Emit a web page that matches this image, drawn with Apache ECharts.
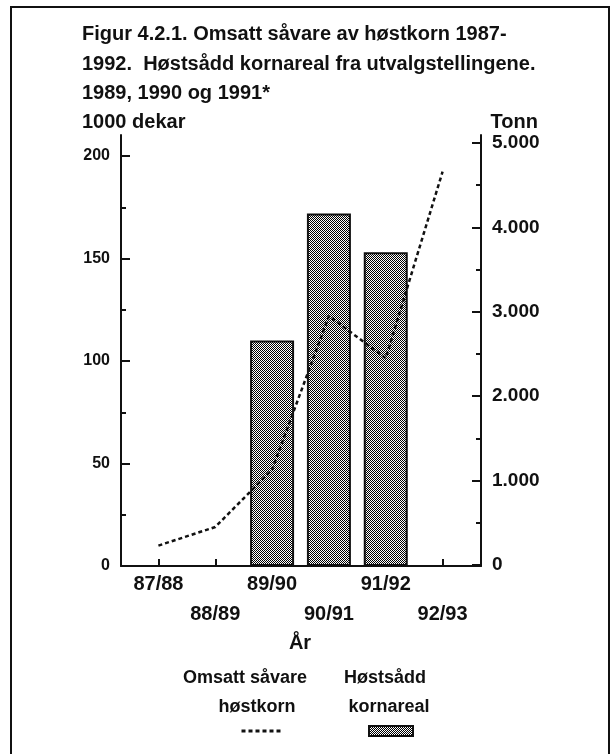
<!DOCTYPE html>
<html>
<head>
<meta charset="utf-8">
<script src="https://cdn.jsdelivr.net/npm/echarts@6/dist/echarts.min.js"></script>
<style>
html,body{margin:0;padding:0;background:#fff;}
#chart{width:613px;height:754px;}
</style>
</head>
<body>
<div id="chart"></div>
<script>
// ---- data ----
const categories = ['87/88', '88/89', '89/90', '90/91', '91/92', '92/93'];
const arealValues = [null, null, 110, 172, 153, null];          // 1000 dekar (bars)
const tonnValues = [230, 450, 1130, 2950, 2450, 4660];           // tonn (dashed line)
const titleLines = ['Figur 4.2.1. Omsatt såvare av høstkorn 1987-',
                    '1992.  Høstsådd kornareal fra utvalgstellingene.',
                    '1989, 1990 og 1991*'];
const leftAxisName = '1000 dekar';
const rightAxisName = 'Tonn';
const xAxisName = 'År';
const lineSeriesName = 'Omsatt såvare høstkorn';
const barSeriesName = 'Høstsådd kornareal';

const FONT = "'Liberation Sans', Arial, Helvetica, sans-serif";
const INK = '#111';

// dithered bar fill
const pc = document.createElement('canvas');
pc.width = 2; pc.height = 2;
const pctx = pc.getContext('2d');
pctx.fillStyle = '#fff'; pctx.fillRect(0, 0, 2, 2);
pctx.fillStyle = '#000'; pctx.fillRect(0, 0, 1, 1); pctx.fillRect(1, 1, 1, 1);
const barPattern = { image: pc, repeat: 'repeat' };

function thousands(v) { return String(v).replace(/\B(?=(\d{3})+(?!\d))/g, '.'); }

function txt(text, x, y, size, align) {
  return {
    type: 'text', x: x, y: y, silent: true,
    style: {
      text: text, fill: INK, font: 'bold ' + size + 'px ' + FONT,
      fontSize: size, fontWeight: 'bold', fontFamily: FONT,
      align: align || 'left', verticalAlign: 'middle',
      textAlign: align || 'left', textVerticalAlign: 'middle'
    }
  };
}

const chart = echarts.init(document.getElementById('chart'), null, { renderer: 'canvas' });

const graphics = [
  { type: 'rect', shape: { x: 11, y: 7, width: 598, height: 770 }, silent: true,
    style: { fill: 'none', stroke: INK, lineWidth: 2 } },
  txt(titleLines[0], 82, 34, 20),
  txt(titleLines[1], 82, 64, 20),
  txt(titleLines[2], 82, 93, 20),
  txt(leftAxisName, 82, 122, 20),
  txt(rightAxisName, 538, 122, 20, 'right'),
  txt(xAxisName, 300, 643, 20, 'center'),
  txt('Omsatt såvare', 245, 678, 18, 'center'),
  txt('høstkorn', 257, 707, 18, 'center'),
  txt('Høstsådd', 385, 678, 18, 'center'),
  txt('kornareal', 389, 707, 18, 'center')
];

const option = {
  backgroundColor: '#fff',
  animation: false,
  textStyle: { fontFamily: FONT, color: INK },
  graphic: graphics,
  legend: [
    { data: [lineSeriesName], left: 240, top: 727, itemWidth: 42, itemHeight: 8,
      itemStyle: { opacity: 0 }, lineStyle: { width: 3, type: [4, 3], color: INK },
      formatter: function () { return ''; }, selectedMode: false, padding: 0 },
    { data: [barSeriesName], left: 368, top: 725, itemWidth: 44, itemHeight: 10, icon: 'rect',
      formatter: function () { return ''; }, selectedMode: false, padding: 0 }
  ],
  grid: [
    { left: 121, right: 132, top: 135, bottom: 188, outerBoundsMode: 'none' },
    { left: 130, right: 142, top: 156, bottom: 188, outerBoundsMode: 'none' },
    { left: 130, right: 142, top: 143, bottom: 189, outerBoundsMode: 'none' }
  ],
  xAxis: [
    { gridIndex: 0, type: 'value', min: 0, max: 1, axisLine: { show: true, onZero: false, lineStyle: { color: INK, width: 2 } },
      axisTick: { show: false }, axisLabel: { show: false }, splitLine: { show: false } },
    { gridIndex: 1, type: 'category', data: categories, boundaryGap: true,
      axisLine: { show: false },
      axisTick: { show: true, inside: true, alignWithLabel: true, length: 7, lineStyle: { color: INK, width: 2 } },
      axisLabel: { show: true, interval: 0, margin: 3, color: INK, fontSize: 20, fontWeight: 'bold', fontFamily: FONT, lineHeight: 30,
        formatter: function (v, i) { return i % 2 === 1 ? '\n' + v : v; } },
      splitLine: { show: false } },
    { gridIndex: 2, type: 'category', data: categories, boundaryGap: true, show: false }
  ],
  yAxis: [
    { gridIndex: 0, type: 'value', position: 'left', min: 0, max: 1,
      axisLine: { show: true, onZero: false, lineStyle: { color: INK, width: 2 } },
      axisTick: { show: false }, axisLabel: { show: false }, splitLine: { show: false } },
    { gridIndex: 0, type: 'value', position: 'right', min: 0, max: 1,
      axisLine: { show: true, onZero: false, lineStyle: { color: INK, width: 2 } },
      axisTick: { show: false }, axisLabel: { show: false }, splitLine: { show: false } },
    { gridIndex: 1, type: 'value', position: 'left', offset: 9, min: 0, max: 200, interval: 50,
      axisLine: { show: false },
      axisTick: { show: true, inside: true, length: 9, lineStyle: { color: INK, width: 2 } },
      minorTick: { show: true, splitNumber: 2, length: 5, lineStyle: { color: INK, width: 2 } },
      axisLabel: { margin: 11, color: INK, fontSize: 16, fontWeight: 'bold', fontFamily: FONT },
      splitLine: { show: false }, minorSplitLine: { show: false } },
    { gridIndex: 2, type: 'value', position: 'right', offset: 10, min: 0, max: 5000, interval: 1000,
      axisLine: { show: false },
      axisTick: { show: true, inside: true, length: 9, lineStyle: { color: INK, width: 2 } },
      minorTick: { show: true, splitNumber: 2, length: 5, lineStyle: { color: INK, width: 2 } },
      axisLabel: { margin: 11, color: INK, fontSize: 19, fontWeight: 'bold', fontFamily: FONT,
        formatter: function (v) { return thousands(v); } },
      splitLine: { show: false }, minorSplitLine: { show: false } }
  ],
  series: [
    { name: barSeriesName, type: 'bar', xAxisIndex: 1, yAxisIndex: 2, data: arealValues, barWidth: 44,
      itemStyle: { color: barPattern, borderColor: INK, borderWidth: 2 } },
    { name: lineSeriesName, type: 'line', xAxisIndex: 2, yAxisIndex: 3, data: tonnValues,
      showSymbol: false, symbol: 'none',
      lineStyle: { color: INK, width: 2.5, type: [4, 3] }, itemStyle: { color: INK }, z: 5 }
  ]
};
chart.setOption(option);
</script>
</body>
</html>
